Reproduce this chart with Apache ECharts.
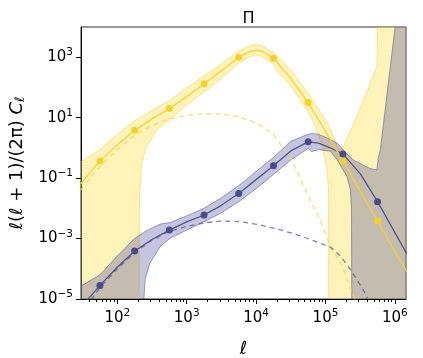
<!DOCTYPE html>
<html>
<head>
<meta charset="utf-8">
<script src="https://cdn.jsdelivr.net/npm/echarts@6/dist/echarts.min.js"></script>
<style>
html, body { margin: 0; padding: 0; background: #fff; }
#chart { width: 423px; height: 358px; }
</style>
</head>
<body>
<div id="chart"></div>
<script>
// all values are log10 exponents: x = log10(ell), y = log10(ell(ell+1)/2pi C_ell)
// -6 / 6 mean "off the plot" (band goes to zero or blows up)
var yelBandX = [1.47, 1.75, 2.0, 2.25, 2.313, 2.316, 2.322, 2.335, 2.352, 2.42, 2.57, 2.75, 3.0, 3.25, 3.5, 3.75, 3.9, 4.0, 4.1, 4.25, 4.3, 4.5, 4.75, 4.85, 4.93, 5.0, 5.03, 5.045, 5.047, 5.2, 5.28, 5.5, 5.74, 5.77, 6.17];
var yelBandLo = [-6, -6, -6, -6, -6, -3, -1.5, -1.0, -0.51, 0.04, 0.59, 0.95, 1.42, 1.85, 2.3, 2.8, 3.0, 3.08, 3.0, 2.78, 2.55, 2.05, 1.2, 0.75, 0.2, -0.4, -0.9, -1.5, -6, -6, -6, -6, -6, -6, -6];
var yelBandHi = [-0.46, -0.07, 0.45, 0.9, 0.98, 0.99, 1.0, 1.01, 1.03, 1.12, 1.33, 1.57, 1.98, 2.38, 2.78, 3.2, 3.37, 3.42, 3.36, 3.15, 3.05, 2.58, 1.8, 1.45, 1.18, 0.92, 0.8, 0.76, 0.75, -0.1, 0.15, 1.3, 2.68, 6, 6];

var purBandX = [1.47, 1.75, 2.0, 2.25, 2.38, 2.385, 2.40, 2.47, 2.62, 2.76, 3.0, 3.25, 3.5, 3.75, 4.0, 4.25, 4.5, 4.75, 4.8, 4.9, 5.07, 5.17, 5.31, 5.36, 5.375, 5.38, 5.4, 5.64, 5.74, 5.76, 5.79, 6.0, 6.03, 6.17];
var purBandLo = [-6, -6, -6, -6, -6, -4.96, -4.36, -3.81, -3.26, -2.99, -2.72, -2.44, -2.15, -1.78, -1.35, -0.88, -0.4, -0.02, -0.12, -0.06, -0.11, -0.40, -0.95, -1.39, -2.05, -6, -6, -6, -6, -6, -6, -6, -6, -6];
var purBandHi = [-4.58, -4.2, -3.58, -3.0, -2.8, -2.79, -2.77, -2.68, -2.52, -2.47, -2.25, -2.0, -1.65, -1.25, -0.78, -0.32, 0.22, 0.45, 0.48, 0.45, 0.28, 0.15, -0.2, -0.3, -0.33, -0.35, -0.4, -0.68, -0.73, -0.35, -0.07, 3.94, 4.5, 6];

var yelLineX = [1.47, 1.75, 2.0, 2.25, 2.5, 2.75, 3.0, 3.25, 3.5, 3.75, 3.9, 4.0, 4.1, 4.25, 4.5, 4.75, 5.0, 5.25, 5.5, 5.75, 6.17];
var yelLineY = [-1.2, -0.43, 0.1, 0.58, 0.96, 1.30, 1.70, 2.12, 2.55, 3.0, 3.18, 3.24, 3.18, 2.97, 2.3, 1.50, 0.55, -0.43, -1.42, -2.42, -4.1];
var purLineX = [1.47, 1.58, 1.75, 2.0, 2.25, 2.5, 2.75, 3.0, 3.25, 3.5, 3.75, 4.0, 4.25, 4.5, 4.75, 4.9, 5.05, 5.25, 5.5, 5.75, 6.17];
var purLineY = [-5.3, -5.0, -4.55, -3.95, -3.41, -3.03, -2.72, -2.45, -2.22, -1.9, -1.51, -1.05, -0.59, -0.1, 0.20, 0.16, 0.02, -0.2, -0.85, -1.78, -3.5];

var yelDashX = [1.47, 1.75, 2.0, 2.25, 2.5, 2.75, 3.0, 3.25, 3.5, 3.75, 4.0, 4.25, 4.54, 4.73, 4.92, 5.07, 5.22, 5.38, 5.45];
var yelDashY = [-1.4, -0.62, -0.05, 0.42, 0.75, 0.95, 1.08, 1.13, 1.12, 1.03, 0.83, 0.45, -0.51, -1.5, -2.38, -3.28, -3.81, -4.75, -5.2];
var purDashX = [1.47, 1.75, 2.0, 2.25, 2.5, 2.75, 3.0, 3.25, 3.5, 3.77, 4.06, 4.35, 4.64, 4.88, 5.07, 5.22, 5.36, 5.5, 5.57, 5.63];
var purDashY = [-5.5, -4.62, -4.0, -3.47, -3.05, -2.76, -2.6, -2.48, -2.42, -2.44, -2.55, -2.71, -2.91, -3.12, -3.28, -3.59, -4.03, -4.53, -4.8, -5.1];

var dotX = [1.75, 2.25, 2.75, 3.25, 3.75, 4.25, 4.75, 5.25, 5.75];
var yelDotY = [-0.43, 0.58, 1.30, 2.12, 3.0, 2.97, 1.50, -0.43, -2.42];
var purDotY = [-4.55, -3.41, -2.72, -2.22, -1.51, -0.59, 0.20, -0.2, -1.78];

var xMajor = [2, 3, 4, 5, 6];
var yMajor = [-5, -3, -1, 1, 3];
var xMin = Math.log10(30), xMax = 6.16;
var yMin = -5, yMax = 4;

var FONT = "DejaVu Sans";
var YEL = "#f3d232", PUR = "#55558f";

var xMinor = [];
for (var n = 1; n <= 6; n++) {
  for (var k = 2; k <= 9; k++) {
    var v = n + Math.log10(k);
    if (v > xMin && v < xMax) xMinor.push(v);
  }
}

function pairs(xs, ys) {
  return xs.map(function (x, i) { return [x, ys[i]]; });
}
function powLabel(v) {
  var e = String(Math.round(v)).replace("-", "\u2212");
  return "{b|10}{s|" + e + "}";
}
var powRich = {
  b: { fontSize: 15, fontFamily: FONT, color: "#000" },
  s: { fontSize: 10.5, fontFamily: FONT, color: "#000", padding: [0, 0, 9, 0] }
};

// filled band between lo and hi, drawn as one polygon through the axes' scales
function band(xs, lo, hi, fill, edge, z) {
  return {
    type: "custom", silent: true, z: z,
    data: pairs(xs, hi),
    renderItem: function (params, api) {
      if (params.dataIndex !== 0) return;
      var top = xs.map(function (x, i) { return api.coord([x, hi[i]]); });
      var bot = xs.map(function (x, i) { return api.coord([x, lo[i]]); });
      var poly = top.concat(bot.slice().reverse());
      var cs = params.coordSys;
      return {
        type: "group",
        clipPath: { type: "rect", shape: { x: cs.x, y: cs.y, width: cs.width, height: cs.height } },
        children: [
          { type: "polygon", shape: { points: poly }, style: { fill: fill, stroke: null } },
          { type: "polyline", shape: { points: top }, style: { fill: null, stroke: edge, lineWidth: 1 } },
          { type: "polyline", shape: { points: bot }, style: { fill: null, stroke: edge, lineWidth: 1 } }
        ]
      };
    }
  };
}
function curve(xs, ys, color, width, dashed, z) {
  return {
    type: "line", data: pairs(xs, ys), showSymbol: false, silent: true, z: z,
    lineStyle: { color: color, width: width, type: dashed ? [5, 4] : "solid" }
  };
}
function dots(ys, color) {
  return {
    type: "scatter", data: pairs(dotX, ys), symbolSize: 7, z: 10, silent: true,
    itemStyle: { color: color, opacity: 1 }
  };
}

var option = {
  animation: false,
  title: {
    text: "\u03a0", left: 243.5, top: 6, textAlign: "center",
    textStyle: { fontFamily: FONT, fontSize: 16, fontWeight: "normal", color: "#000" }
  },
  grid: {
    left: 81, right: 17, top: 27, bottom: 59,
    outerBoundsMode: "none", containLabel: false,
    show: true, borderColor: "#333", borderWidth: 1
  },
  xAxis: [
    {
      type: "value", min: xMin, max: xMax,
      name: "\u2113", nameLocation: "middle", nameGap: 41,
      nameTextStyle: { fontFamily: FONT, fontSize: 18, color: "#000" },
      axisLine: { onZero: false, lineStyle: { color: "#000" } },
      axisTick: { length: 5, customValues: xMajor, lineStyle: { color: "#000" } },
      axisLabel: { customValues: xMajor, margin: 9, formatter: powLabel, rich: powRich },
      splitLine: { show: false }
    },
    {
      type: "value", min: xMin, max: xMax, position: "bottom",
      axisLine: { show: false, onZero: false },
      axisTick: { length: 3, customValues: xMinor, lineStyle: { color: "#000" } },
      axisLabel: { show: false },
      splitLine: { show: false }
    }
  ],
  yAxis: {
    type: "value", min: yMin, max: yMax,
    name: "{t|\u2113(\u2113 + 1)/(2\u03c0) }{i|C}{u|\u2113}",
    nameLocation: "middle", nameGap: 54, nameRotate: 90,
    nameTextStyle: {
      rich: {
        t: { fontFamily: FONT, fontSize: 18, color: "#000" },
        i: { fontFamily: FONT, fontSize: 18, fontStyle: "italic", color: "#000" },
        u: { fontFamily: FONT, fontSize: 13, color: "#000", padding: [7, 0, 0, 0] }
      }
    },
    axisLine: { onZero: false, lineStyle: { color: "#000" } },
    axisTick: { length: 5, customValues: yMajor, lineStyle: { color: "#000" } },
    axisLabel: { customValues: yMajor, margin: 8, formatter: powLabel, rich: powRich },
    splitLine: { show: false }
  },
  series: [
    band(yelBandX, yelBandLo, yelBandHi, "rgba(253,222,60,0.36)", "rgba(245,208,40,0.5)", 1),
    band(purBandX, purBandLo, purBandHi, "rgba(75,75,155,0.32)", "rgba(70,70,150,0.5)", 2),
    curve(yelDashX, yelDashY, "rgba(246,214,60,0.75)", 1.3, true, 3),
    curve(purDashX, purDashY, "rgba(85,85,155,0.75)", 1.3, true, 3),
    curve(purLineX, purLineY, PUR, 1.3, false, 4),
    curve(yelLineX, yelLineY, YEL, 1.3, false, 5),
    dots(purDotY, "#4b4b8c"),
    dots(yelDotY, "#f5d12c")
  ]
};

var chart = echarts.init(document.getElementById("chart"));
chart.setOption(option);
</script>
</body>
</html>
